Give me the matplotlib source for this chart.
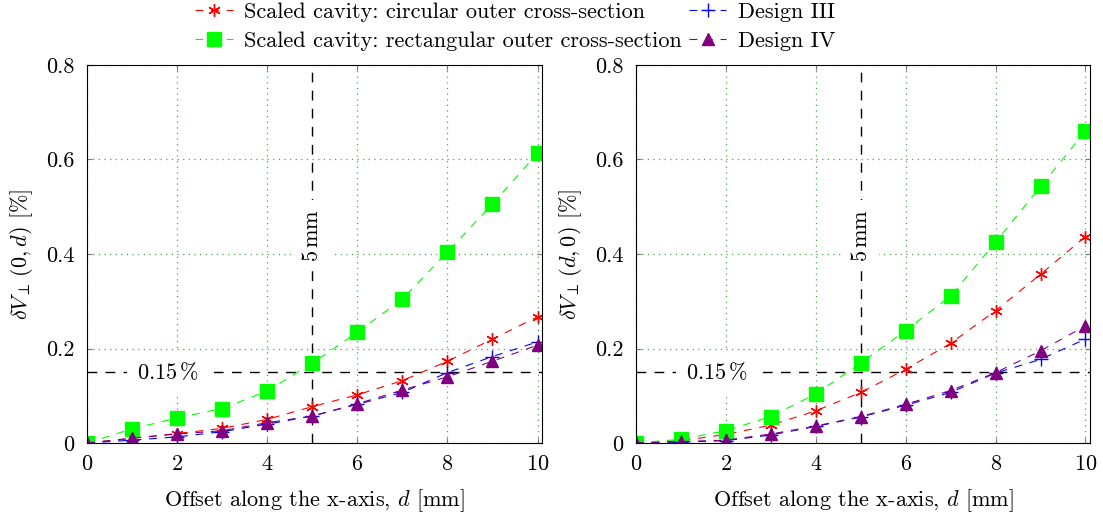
import matplotlib.pyplot as plt
import numpy as np

plt.rcParams['font.family'] = 'serif'
plt.rcParams['font.serif'] = ['cmr10', 'DejaVu Serif']
plt.rcParams['mathtext.fontset'] = 'cm'
plt.rcParams['axes.formatter.use_mathtext'] = True
plt.rcParams['font.size'] = 16

d = [0, 1, 2, 3, 4, 5, 6, 7, 8, 9, 10]

# left panel: dV(0, d)
circ_0d = [0, 0.010, 0.020, 0.031, 0.050, 0.077, 0.102, 0.132, 0.173, 0.220, 0.267]
rect_0d = [0, 0.030, 0.053, 0.073, 0.110, 0.169, 0.234, 0.305, 0.404, 0.506, 0.613]
d3_0d = [0, 0.006, 0.013, 0.024, 0.040, 0.057, 0.082, 0.107, 0.149, 0.183, 0.214]
d4_0d = [0, 0.010, 0.019, 0.026, 0.043, 0.057, 0.083, 0.112, 0.140, 0.173, 0.207]

# right panel: dV(d, 0)
circ_d0 = [0, 0.005, 0.018, 0.038, 0.068, 0.107, 0.156, 0.211, 0.280, 0.357, 0.437]
rect_d0 = [0, 0.008, 0.026, 0.056, 0.104, 0.169, 0.238, 0.311, 0.425, 0.543, 0.660]
d3_d0 = [0, 0.002, 0.005, 0.017, 0.035, 0.055, 0.080, 0.107, 0.148, 0.177, 0.220]
d4_d0 = [0, 0.003, 0.006, 0.019, 0.036, 0.056, 0.082, 0.111, 0.149, 0.195, 0.248]

labels = ['Scaled cavity: circular outer cross-section',
          'Scaled cavity: rectangular outer cross-section',
          'Design III', 'Design IV']
ylabels = [r'$\delta V_\perp\,(0, d)$ [%]', r'$\delta V_\perp\,(d, 0)$ [%]']

fig = plt.figure(figsize=(11.03, 5.15), dpi=100)
ax1 = fig.add_axes([0.0789, 0.1398, 0.4125, 0.734])
ax2 = fig.add_axes([0.5766, 0.1398, 0.4116, 0.734])

panels = [(ax1, circ_0d, rect_0d, d3_0d, d4_0d),
          (ax2, circ_d0, rect_d0, d3_d0, d4_d0)]

dash = (0, (7, 7))
for i, (ax, c, r, s3, s4) in enumerate(panels):
    ax.plot(d, c, color='red', ls=dash, lw=0.8, marker=(6, 2, 0), ms=9,
            mew=1.0, label=labels[0])
    ax.plot(d, r, color='#00ff00', ls=dash, lw=0.8, marker='s', ms=9.5,
            label=labels[1])
    ax.plot(d, s3, color='blue', ls=dash, lw=0.8, marker='+', ms=10,
            mew=1.0, label=labels[2])
    ax.plot(d, s4, color='purple', ls=dash, lw=0.8, marker='^', ms=9,
            label=labels[3])

    # reference lines: 0.15 % threshold and 5 mm offset
    ax.axhline(0.15, color='black', ls=(0, (7, 6)), lw=1, zorder=1)
    ax.axvline(5, color='black', ls=(0, (7, 6)), lw=1, zorder=1)
    ax.text(1.8, 0.15, r'$0.15\,\%$', ha='center', va='center', fontsize=16,
            bbox=dict(facecolor='white', edgecolor='none', pad=7), zorder=2)
    ax.text(5, 0.44, r'$5\,\mathrm{mm}$', rotation=90, ha='center',
            va='center', fontsize=16, zorder=2,
            bbox=dict(facecolor='white', edgecolor='none', pad=6))

    ax.set_xlim(0, 10.1)
    ax.set_ylim(0, 0.8)
    ax.set_xticks([0, 2, 4, 6, 8, 10])
    ax.set_yticks([0, 0.2, 0.4, 0.6, 0.8])
    ax.set_yticklabels(['0', '0.2', '0.4', '0.6', '0.8'])
    ax.grid(True, color='#44aa44', ls=(0, (1, 3.5)), lw=0.9)
    ax.tick_params(direction='in', top=True, right=True, color='#777777',
                   labelsize=16)
    ax.tick_params(axis='y', pad=9)
    ax.tick_params(axis='x', pad=8)
    ax.set_xlabel(r'Offset along the x-axis, $d$ [mm]', fontsize=16,
                  labelpad=10)
    ax.set_ylabel(ylabels[i], fontsize=16, labelpad=8)
    ax.set_axisbelow(True)

h, l = ax1.get_legend_handles_labels()
fig.legend(h, l, ncol=2, loc='upper center', bbox_to_anchor=(0.467, 1.035),
           frameon=False, fontsize=16, handlelength=1.7, handletextpad=0.5,
           columnspacing=0.3, labelspacing=0.45)

fig.savefig('out.png', dpi=100)
